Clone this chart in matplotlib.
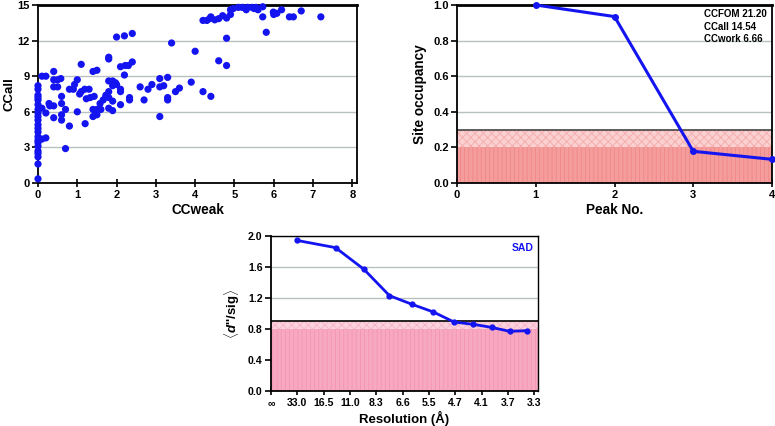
import matplotlib
matplotlib.use("Agg")
import matplotlib.pyplot as plt
import numpy as np

plt.rcParams['font.family'] = ['Liberation Sans', 'DejaVu Sans']
plt.rcParams['font.weight'] = 'bold'
plt.rcParams['hatch.linewidth'] = 0.6
plt.rcParams['mathtext.fontset'] = 'custom'
plt.rcParams['mathtext.bfit'] = 'Liberation Sans:italic:bold'
plt.rcParams['mathtext.bf'] = 'Liberation Sans:bold'
plt.rcParams['mathtext.rm'] = 'Liberation Sans:bold'

# ---------------- data ----------------
# Scatter: CCweak vs CCall
cc_weak = [0, 0, 0, 0, 0, 0, 0, 0, 0, 0, 0, 0, 0, 0, 0, 0, 0, 0, 0, 0, 0, 0,
           0.1, 0.2, 0.1, 0.2, 0.2, 0.1,
           0.28, 0.3, 0.4, 0.4, 0.4, 0.4, 0.4, 0.5, 0.5, 0.58, 0.6, 0.6, 0.6, 0.6,
           0.7, 0.7, 0.8, 0.8, 0.9, 0.93, 1.0, 1.0, 1.06, 1.1, 1.1, 1.19, 1.2, 1.23,
           1.3, 1.33, 1.4, 1.4, 1.4, 1.43, 1.5, 1.5, 1.5, 1.58, 1.6, 1.66, 1.73, 1.73,
           1.8, 1.8, 1.8, 1.8, 1.8, 1.8, 1.9, 1.9, 1.9, 1.9, 1.97, 2.0, 2.0,
           2.1, 2.1, 2.1, 2.1, 2.2, 2.2, 2.22, 2.3, 2.33, 2.33, 2.4, 2.4,
           2.6, 2.7, 2.8, 2.9, 3.1, 3.1, 3.1, 3.2, 3.3, 3.3, 3.3, 3.4, 3.5, 3.6,
           3.9, 4.0, 4.2, 4.4, 4.6, 4.8, 4.8,
           4.2, 4.3, 4.37, 4.4, 4.5, 4.6, 4.7, 4.8, 4.9, 4.9, 4.97, 5.1, 5.2, 5.3,
           5.33, 5.45, 5.5, 5.55, 5.6, 5.72, 5.72, 5.81, 5.99, 6.0, 6.08, 6.2,
           6.4, 6.5, 6.7, 7.2]
cc_all = [0.35, 1.6, 2.2, 2.5, 2.7, 3.1, 3.4, 3.6, 3.9, 4.3, 4.6, 4.9, 5.3, 5.6,
          5.9, 6.2, 6.6, 7.0, 7.2, 7.4, 7.9, 8.2,
          3.7, 3.8, 9.0, 9.0, 5.9, 6.3,
          6.7, 6.5, 9.4, 8.7, 8.1, 6.5, 5.5, 8.7, 8.1, 8.8, 7.3, 6.7, 5.75, 5.3,
          6.2, 2.9, 7.9, 4.8, 7.9, 8.3, 8.7, 6.0, 7.5, 10.0, 7.7, 7.9, 5.0, 7.1,
          7.9, 7.2, 9.4, 6.2, 5.6, 7.3, 9.5, 6.2, 5.75, 6.7, 6.2, 7.0, 7.4, 7.3,
          10.6, 10.45, 8.6, 7.7, 7.2, 6.3, 8.6, 8.2, 6.9, 6.1, 8.45, 12.3, 8.3,
          9.8, 7.9, 7.7, 6.6, 12.4, 9.1, 9.9, 9.9, 7.2, 7.0, 12.6, 10.2,
          8.1, 7.0, 7.9, 8.3, 8.8, 8.1, 5.6, 8.2, 8.9, 7.2, 7.0, 11.8, 7.7, 8.0,
          8.5, 11.1, 7.7, 7.3, 10.3, 12.2, 9.9,
          13.7, 13.7, 13.85, 14.0, 13.75, 13.85, 14.1, 13.9, 14.2, 14.6, 14.7, 14.8, 14.8, 14.6,
          14.8, 14.8, 14.7, 14.8, 14.6, 14.85, 14.0, 12.7, 14.4, 14.2, 14.3, 14.6,
          14.0, 14.0, 14.5, 14.0]

# Site occupancy
peak_no = [1, 2, 3, 4]
occupancy = [1.0, 0.935, 0.178, 0.133]
stats_text = ["CCFOM 21.20", "CCall 14.54", "CCwork 6.66"]

# Anomalous signal vs resolution
res_tick_labels = ["\u221e", "33.0", "16.5", "11.0", "8.3", "6.6", "5.5",
                   "4.7", "4.1", "3.7", "3.3"]
res_pos = [0.97, 2.45, 3.53, 4.50, 5.36, 6.17, 6.95, 7.69, 8.39, 9.06, 9.72]
dsig = [1.944, 1.85, 1.57, 1.23, 1.118, 1.019, 0.89, 0.86, 0.82, 0.77, 0.778]

# ---------------- style ----------------
BLUE = '#1414f0'
GRID = '#b8c0c0'
tick_fs = 8.0
label_fs = 9.8

fig = plt.figure(figsize=(7.75, 4.26), dpi=100)

def style_axes(ax, tfs=tick_fs):
    for s in ax.spines.values():
        s.set_linewidth(1.3)
        s.set_color('black')
    ax.tick_params(axis='x', direction='inout', length=6, width=1.2,
                   labelsize=tfs, pad=2)
    ax.tick_params(axis='y', direction='out', length=4, width=1.2,
                   labelsize=tfs, pad=2)
    ax.yaxis.grid(True, color=GRID, linewidth=1.0)
    ax.set_axisbelow(True)
    for lab in ax.get_xticklabels() + ax.get_yticklabels():
        lab.set_fontweight('bold')

# ---- top-left scatter ----
ax1 = fig.add_axes([38/775, 1-183/426, 319/775, 178/426])
ax1.scatter(cc_weak, cc_all, s=27, color=BLUE, edgecolors='none', zorder=3,
            clip_on=False)
ax1.set_xlim(0, 8.12)
ax1.set_ylim(0, 15)
ax1.set_xticks(range(0, 9))
ax1.set_yticks([0, 3, 6, 9, 12, 15])
style_axes(ax1)
ax1.spines['top'].set_linewidth(2.0)
ax1.set_xlabel("CCweak", fontsize=label_fs, fontweight='bold', labelpad=2)
ax1.set_ylabel("CCall", fontsize=9.5, fontweight='bold', labelpad=1)

# ---- top-right occupancy ----
ax2 = fig.add_axes([457/775, 1-183/426, 315/775, 178/426])
ax2.axhspan(0, 0.2, facecolor='#f59c9c', edgecolor='#f08888', hatch='||||',
            linewidth=0, zorder=1)
ax2.axhspan(0.2, 0.3, facecolor='#fbd0d0', edgecolor='#f5aaaa', hatch='xxxx',
            linewidth=0, zorder=1)
ax2.axhline(0.3, color='#444444', linewidth=1.2, zorder=2)
ax2.plot(peak_no, occupancy, color=BLUE, linewidth=2.2, marker='o',
         markersize=4, zorder=4, clip_on=False)
ax2.set_xlim(0, 4)
ax2.set_ylim(0, 1.0)
ax2.set_xticks(range(0, 5))
ax2.set_yticks(np.arange(0, 1.01, 0.2))
ax2.set_yticklabels(["0.0", "0.2", "0.4", "0.6", "0.8", "1.0"])
style_axes(ax2)
ax2.spines['top'].set_linewidth(2.0)
ax2.set_xlabel("Peak No.", fontsize=label_fs, fontweight='bold', labelpad=2)
ax2.set_ylabel("Site occupancy", fontsize=label_fs, fontweight='bold', labelpad=4)
ax2.text(0.982, 0.975, "\n".join(stats_text), transform=ax2.transAxes,
         ha='right', va='top', multialignment='left', fontsize=7,
         fontweight='bold', linespacing=1.3, zorder=5)

# ---- bottom resolution ----
ax3 = fig.add_axes([271/775, 1-391/426, 267/775, 155/426])
ax3.axhspan(0, 0.8, facecolor='#f7a9c1', edgecolor='#f395b2', hatch='||||',
            linewidth=0, zorder=1)
ax3.axhspan(0.8, 0.9, facecolor='#fad3de', edgecolor='#f5b3c6', hatch='xxxx',
            linewidth=0, zorder=1)
ax3.axhline(0.9, color='black', linewidth=1.2, zorder=2)
ax3.plot(res_pos, dsig, color=BLUE, linewidth=2.0, marker='o',
         markersize=3.5, zorder=4)
ax3.set_xlim(0, 10.14)
ax3.set_ylim(0, 2.0)
ax3.set_xticks(range(len(res_tick_labels)))
ax3.set_xticklabels(res_tick_labels)
ax3.set_yticks(np.arange(0, 2.01, 0.4))
ax3.set_yticklabels(["0.0", "0.4", "0.8", "1.2", "1.6", "2.0"])
style_axes(ax3, tfs=7.6)
ax3.spines['top'].set_linewidth(1.0)
ax3.spines['right'].set_linewidth(1.0)
ax3.set_xlabel("Resolution (\u00c5)", fontsize=9.5, fontweight='bold',
               labelpad=2)
ax3.set_ylabel(r"$\langle$" + r"$\mathbfit{d}$" + "''/sig" + r"$\rangle$",
               fontsize=9.5, fontweight='bold', labelpad=4)
ax3.text(0.985, 0.955, "SAD", transform=ax3.transAxes, ha='right', va='top',
         fontsize=7.5, fontweight='bold', color=BLUE, zorder=5)

fig.savefig("out.png", dpi=100)
